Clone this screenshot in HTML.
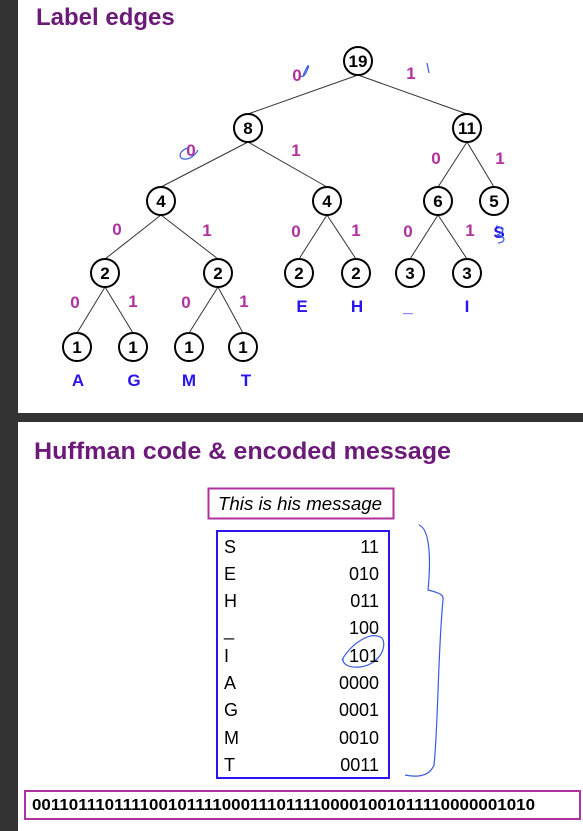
<!DOCTYPE html>
<html><head><meta charset="utf-8"><style>
html,body{margin:0;padding:0;background:#fff}
svg{display:block}
text{font-family:"Liberation Sans",Arial,sans-serif}
.n{font-weight:bold;font-size:17px;text-anchor:middle}
.e{font-weight:bold;font-size:17px;fill:#b0329e;text-anchor:middle}
.l{font-weight:bold;font-size:17px;fill:#2a14f0;text-anchor:middle}
.t{font-size:18px}
</style></head><body>
<svg width="583" height="831" viewBox="0 0 583 831" xmlns="http://www.w3.org/2000/svg">
<rect x="0" y="0" width="18" height="831" fill="#333"/>
<rect x="18" y="413" width="565" height="9" fill="#333"/>
<text x="36" y="25" font-size="24" font-weight="bold" fill="#6b1a78">Label edges</text>
<text x="34" y="459" font-size="24" font-weight="bold" fill="#6b1a78" textLength="417" lengthAdjust="spacingAndGlyphs">Huffman code &amp; encoded message</text>
<g stroke="#333" stroke-width="1" fill="none">
<line x1="358" y1="75" x2="248" y2="114"/>
<line x1="358" y1="75" x2="467" y2="114"/>
<line x1="248" y1="142" x2="161" y2="187"/>
<line x1="248" y1="142" x2="327" y2="187"/>
<line x1="467" y1="142" x2="438" y2="187"/>
<line x1="467" y1="142" x2="494" y2="187"/>
<line x1="161" y1="215" x2="105" y2="259"/>
<line x1="161" y1="215" x2="218" y2="259"/>
<line x1="327" y1="215" x2="299" y2="259"/>
<line x1="327" y1="215" x2="356" y2="259"/>
<line x1="438" y1="215" x2="410" y2="259"/>
<line x1="438" y1="215" x2="467" y2="259"/>
<line x1="105" y1="287" x2="77" y2="333"/>
<line x1="105" y1="287" x2="133" y2="333"/>
<line x1="218" y1="287" x2="189" y2="333"/>
<line x1="218" y1="287" x2="243" y2="333"/>
</g>
<g stroke="#000" stroke-width="2" fill="#fff">
<circle cx="358" cy="61" r="14"/><circle cx="248" cy="128" r="14"/><circle cx="467" cy="128" r="14"/>
<circle cx="161" cy="201" r="14"/><circle cx="327" cy="201" r="14"/><circle cx="438" cy="201" r="14"/><circle cx="494" cy="201" r="14"/>
<circle cx="105" cy="273" r="14"/><circle cx="218" cy="273" r="14"/><circle cx="299" cy="273" r="14"/><circle cx="356" cy="273" r="14"/><circle cx="410" cy="273" r="14"/><circle cx="467" cy="273" r="14"/>
<circle cx="77" cy="347" r="14"/><circle cx="133" cy="347" r="14"/><circle cx="189" cy="347" r="14"/><circle cx="243" cy="347" r="14"/>
</g>
<g class="n">
<text x="358" y="67">19</text><text x="248" y="134">8</text><text x="467" y="134">11</text>
<text x="161" y="207">4</text><text x="327" y="207">4</text><text x="438" y="207">6</text><text x="494" y="207">5</text>
<text x="105" y="279">2</text><text x="218" y="279">2</text><text x="299" y="279">2</text><text x="356" y="279">2</text><text x="410" y="279">3</text><text x="467" y="279">3</text>
<text x="77" y="353">1</text><text x="133" y="353">1</text><text x="189" y="353">1</text><text x="243" y="353">1</text>
</g>
<g class="e">
<text x="297" y="81">0</text><text x="411" y="79">1</text>
<text x="191" y="156">0</text><text x="296" y="156">1</text>
<text x="436" y="164">0</text><text x="500" y="164">1</text>
<text x="117" y="235">0</text><text x="207" y="236">1</text>
<text x="296" y="237">0</text><text x="356" y="236">1</text>
<text x="408" y="237">0</text><text x="470" y="236">1</text>
<text x="75" y="308">0</text><text x="133" y="307">1</text>
<text x="186" y="308">0</text><text x="244" y="307">1</text>
</g>
<g class="l">
<text x="78" y="386">A</text><text x="134" y="386">G</text><text x="189" y="386">M</text><text x="246" y="386">T</text>
<text x="302" y="312">E</text><text x="357" y="312">H</text><text x="408" y="312">_</text><text x="467" y="312">I</text><text x="499" y="238">S</text>
</g>
<g stroke="#3a5be0" stroke-width="1.2" fill="none">
<path d="M303 76 C306 68 310 62 308 68 C306 74 303 78 301 76"/>
<path d="M427 63 L429 73"/>
<path d="M188 148 C180 150 177 158 184 159 C190 160 196 154 198 150"/>
<path d="M496 226 C505 228 505 232 497 235 C505 236 507 242 498 243"/>
<path d="M419 525 C432 530 430 570 428 590 C440 593 444 595 443 600 C438 650 438 730 434 765 C430 775 420 778 405 775"/>
<path d="M342 660 C350 645 370 630 382 638 C388 648 378 665 360 667 C348 668 342 664 343 658"/>
</g>
<rect x="208.5" y="488.5" width="185" height="30" fill="none" stroke="#b0329e" stroke-width="2"/>
<text x="218" y="510" font-size="18" font-style="italic" textLength="164" lengthAdjust="spacingAndGlyphs">This is his message</text>
<rect x="217" y="531" width="172" height="247" fill="none" stroke="#2a14f0" stroke-width="2"/>
<g class="t">
<text x="224" y="553">S</text><text x="224" y="580">E</text><text x="224" y="607">H</text><text x="224" y="636">_</text><text x="224" y="662">I</text><text x="224" y="689">A</text><text x="224" y="716">G</text><text x="224" y="744">M</text><text x="224" y="771">T</text>
</g>
<g class="t" text-anchor="end">
<text x="379" y="553">11</text><text x="379" y="580">010</text><text x="379" y="607">011</text><text x="379" y="634">100</text><text x="379" y="662">101</text><text x="379" y="689">0000</text><text x="379" y="716">0001</text><text x="379" y="744">0010</text><text x="379" y="771">0011</text>
</g>
<rect x="25" y="791" width="555" height="28" fill="none" stroke="#b0329e" stroke-width="2"/>
<text x="32" y="810" font-size="16" font-weight="bold" textLength="503" lengthAdjust="spacingAndGlyphs">0011011101111001011110001110111100001001011110000001010</text>
</svg>
</body></html>
